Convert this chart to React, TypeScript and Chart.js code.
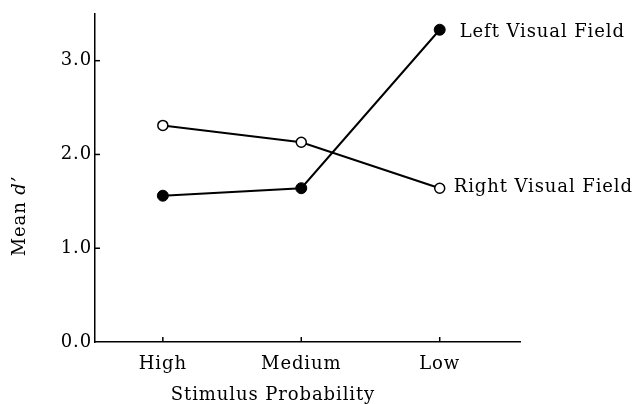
import React, { useEffect, useRef } from "react";
import { Chart, registerables } from "chart.js";

Chart.register(...registerables);

const categories = ["High", "Medium", "Low"];
const leftVisualField = [1.56, 1.64, 3.33];
const rightVisualField = [2.31, 2.13, 1.64];
const yTicks = [0, 1, 2, 3];
const seriesLabels = ["Left Visual Field", "Right Visual Field"];
const xTitle = "Stimulus Probability";
const yTitleMain = "Mean ";
const yTitleItalic = "d\u2019";

const FONT = '"DejaVu Serif", "Liberation Serif", serif';
const SIZE = 18;
const SPACING = "0.9px";

export default function App() {
  const ref = useRef<HTMLCanvasElement>(null);

  useEffect(() => {
    const canvas = ref.current;
    if (!canvas) return;

    const decor = {
      id: "decor",
      beforeDraw(chart: any) {
        (chart.ctx as any).letterSpacing = SPACING;
      },
      afterDraw(chart: any) {
        const ctx = chart.ctx as CanvasRenderingContext2D;
        const xs = chart.scales.x;
        const ys = chart.scales.y;
        ctx.save();
        (ctx as any).letterSpacing = SPACING;
        ctx.strokeStyle = "#000";
        ctx.lineWidth = 1.5;
        yTicks.slice(1).forEach((v) => {
          const py = ys.getPixelForValue(v);
          ctx.beginPath();
          ctx.moveTo(xs.left, py);
          ctx.lineTo(xs.left + 5, py);
          ctx.stroke();
        });
        categories.forEach((_, i) => {
          const px = xs.getPixelForValue(i + 1);
          ctx.beginPath();
          ctx.moveTo(px, ys.bottom);
          ctx.lineTo(px, ys.bottom - 5);
          ctx.stroke();
        });

        ctx.fillStyle = "#000";
        const offsets = [
          { dx: 20, dy: 7 },
          { dx: 14, dy: 4 },
        ];
        chart.data.datasets.forEach((_: any, di: number) => {
          const meta = chart.getDatasetMeta(di);
          const last = meta.data[meta.data.length - 1];
          ctx.font = `${SIZE}px ${FONT}`;
          ctx.textAlign = "left";
          ctx.textBaseline = "alphabetic";
          ctx.fillText(seriesLabels[di], last.x + offsets[di].dx, last.y + offsets[di].dy);
        });

        ctx.font = `${SIZE}px ${FONT}`;
        ctx.textAlign = "center";
        ctx.textBaseline = "alphabetic";
        ctx.fillText(xTitle, 273, 400);

        ctx.save();
        ctx.translate(25, 216);
        ctx.rotate(-Math.PI / 2);
        ctx.textAlign = "left";
        ctx.font = `${SIZE}px ${FONT}`;
        const w1 = ctx.measureText(yTitleMain).width;
        ctx.font = `italic ${SIZE}px ${FONT}`;
        const w2 = ctx.measureText(yTitleItalic).width;
        const start = -(w1 + w2) / 2;
        ctx.font = `${SIZE}px ${FONT}`;
        ctx.fillText(yTitleMain, start, 0);
        ctx.font = `italic ${SIZE}px ${FONT}`;
        ctx.fillText(yTitleItalic, start + w1, 0);
        ctx.restore();

        ctx.restore();
      },
    };

    const chart = new Chart(canvas, {
      type: "line",
      data: {
        datasets: [
          {
            label: seriesLabels[0],
            data: leftVisualField.map((y, i) => ({ x: i + 1, y })),
            borderColor: "#000",
            borderWidth: 2,
            pointRadius: 5.5,
            pointBackgroundColor: "#000",
            pointBorderColor: "#000",
            pointBorderWidth: 1,
            fill: false,
            tension: 0,
          },
          {
            label: seriesLabels[1],
            data: rightVisualField.map((y, i) => ({ x: i + 1, y })),
            borderColor: "#000",
            borderWidth: 2,
            pointRadius: 5,
            pointBackgroundColor: "#fff",
            pointBorderColor: "#000",
            pointBorderWidth: 1.5,
            fill: false,
            tension: 0,
          },
        ],
      },
      options: {
        animation: false,
        responsive: false,
        devicePixelRatio: 1,
        layout: { padding: { top: 13, right: 116, left: 0, bottom: 0 } },
        plugins: {
          legend: { display: false },
          tooltip: { enabled: false },
          title: { display: false },
        },
        scales: {
          x: {
            type: "linear",
            min: 0.51,
            max: 3.58,
            afterBuildTicks: (s: any) => {
              s.ticks = categories.map((_, i) => ({ value: i + 1 }));
            },
            afterFit: (s: any) => {
              s.height = 62;
            },
            grid: { display: false, drawTicks: false },
            border: { display: true, color: "#000", width: 1.5 },
            ticks: {
              callback: (v: any) => categories[Number(v) - 1] ?? "",
              font: { family: FONT, size: SIZE },
              color: "#000",
              padding: 12,
              maxRotation: 0,
              autoSkip: false,
            },
          },
          y: {
            type: "linear",
            min: 0,
            max: 3.5,
            afterBuildTicks: (s: any) => {
              s.ticks = yTicks.map((v) => ({ value: v }));
            },
            afterFit: (s: any) => {
              s.width = 95;
            },
            grid: { display: false, drawTicks: false },
            border: { display: true, color: "#000", width: 1.5 },
            ticks: {
              callback: (v: any) => Number(v).toFixed(1),
              font: { family: FONT, size: SIZE },
              color: "#000",
              padding: 3,
            },
          },
        },
      },
      plugins: [decor],
    });

    return () => chart.destroy();
  }, []);

  return (
    <div
      style={{
        position: "fixed",
        left: 0,
        top: 0,
        width: 636,
        height: 404,
        background: "#fff",
      }}
    >
      <canvas ref={ref} width={636} height={404} />
    </div>
  );
}
